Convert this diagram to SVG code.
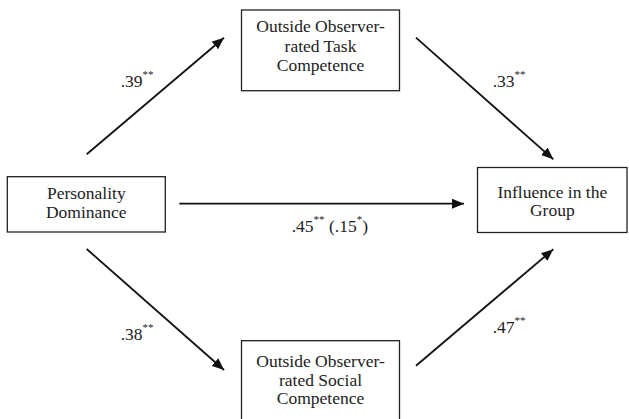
<svg xmlns="http://www.w3.org/2000/svg" width="629" height="419" viewBox="0 0 629 419">
<style>
.box{fill:#fff;stroke:#222;stroke-width:1.3}
.t{font-family:"Liberation Serif","Times New Roman",serif;font-size:17.5px;fill:#222;text-anchor:middle}
.l{font-family:"Liberation Serif","Times New Roman",serif;font-size:17.5px;fill:#222}
.s{font-size:11px}
.c{stroke:#111;stroke-width:1.8;fill:none;marker-end:url(#ah)}
</style>
<defs>
<marker id="ah" viewBox="0 0 12 10" refX="12" refY="5" markerWidth="12" markerHeight="10" markerUnits="userSpaceOnUse" orient="auto">
<path d="M0,0 L12,5 L0,10 Z" fill="#111"/>
</marker>
</defs>
<rect width="629" height="419" fill="#fff"/>
<g id="connectors">
<line class="c" x1="86.7" y1="154.3" x2="224" y2="37.7"/>
<line class="c" x1="416" y1="37.7" x2="553.3" y2="159.3"/>
<line class="c" x1="86.7" y1="249" x2="224" y2="370"/>
<line class="c" x1="416" y1="365.7" x2="553.3" y2="249.3"/>
<line class="c" x1="179.3" y1="203.7" x2="464" y2="203.7"/>
<text class="l" x="120.7" y="87.3">.39<tspan class="s" dy="-9">**</tspan></text>
<text class="l" x="492.7" y="87">.33<tspan class="s" dy="-9">**</tspan></text>
<text class="l" x="120.7" y="340">.38<tspan class="s" dy="-9">**</tspan></text>
<text class="l" x="492.7" y="333.3">.47<tspan class="s" dy="-9">**</tspan></text>
<text class="l" x="291.7" y="232">.45<tspan class="s" dy="-9">**</tspan><tspan dy="9"> (.15</tspan><tspan class="s" dy="-9">*</tspan><tspan dy="9">)</tspan></text>
</g>
<g id="task">
<rect class="box" x="241.5" y="10" width="158" height="80.7"/>
<text class="t" x="320.5" y="31.7">Outside Observer-</text>
<text class="t" x="320.5" y="51.5">rated Task</text>
<text class="t" x="320.5" y="71">Competence</text>
</g>
<g id="dominance">
<rect class="box" x="7.3" y="176.7" width="158" height="55.3"/>
<text class="t" x="86.3" y="199.3">Personality</text>
<text class="t" x="86.3" y="217.7">Dominance</text>
</g>
<g id="influence">
<rect class="box" x="477.5" y="167.5" width="149.5" height="65"/>
<text class="t" x="552.3" y="197.5">Influence in the</text>
<text class="t" x="552.3" y="215.5">Group</text>
</g>
<g id="social">
<rect class="box" x="241.5" y="340.7" width="158" height="85"/>
<text class="t" x="320.5" y="367.3">Outside Observer-</text>
<text class="t" x="320.5" y="385.5">rated Social</text>
<text class="t" x="320.5" y="404">Competence</text>
</g>
</svg>
